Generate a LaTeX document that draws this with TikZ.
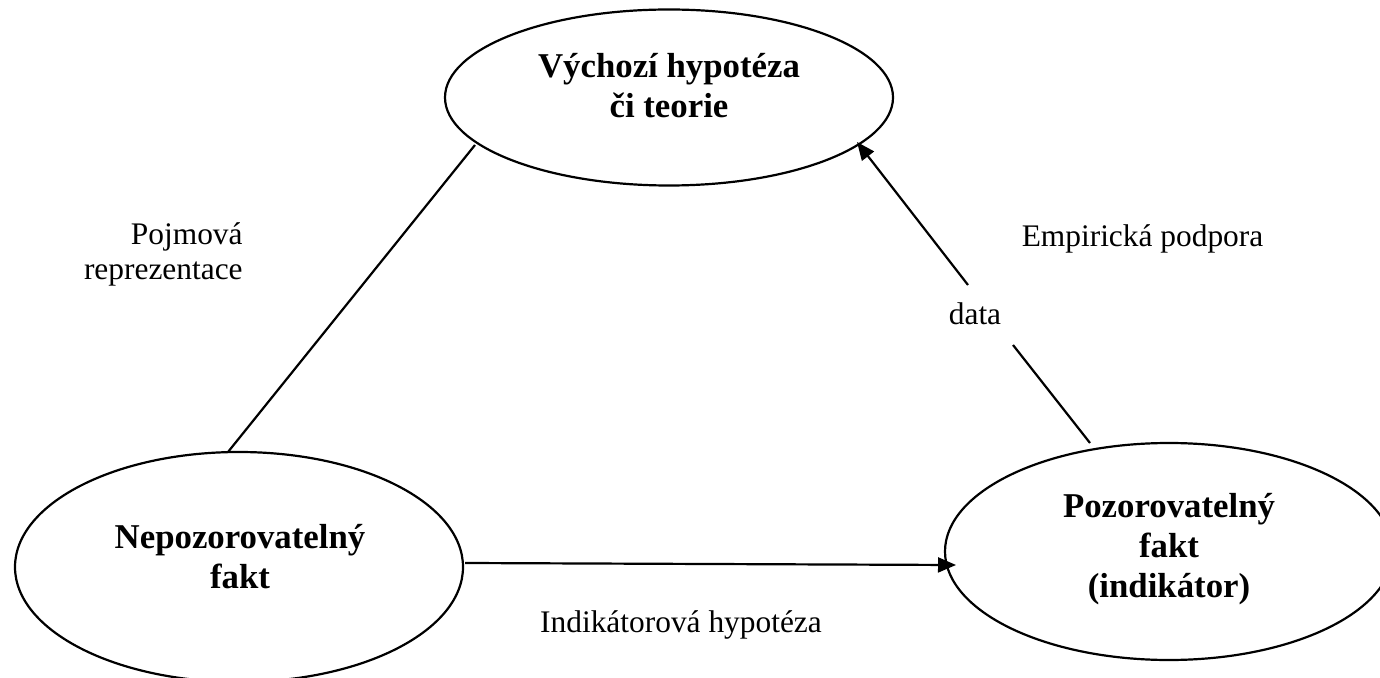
\documentclass[tikz,border=0pt]{standalone}
\usepackage{fontspec}
\setmainfont{Liberation Serif}
\usetikzlibrary{shapes.geometric,arrows.meta}

\tikzset{
  oval/.style={draw, line width=1.1pt, ellipse, inner sep=0pt},
  boldtext/.style={font=\fontsize{17.4}{20}\selectfont\bfseries, align=center, anchor=base, inner sep=0pt},
  plaintext/.style={font=\fontsize{15.7}{17.5}\selectfont, anchor=base, inner sep=0pt},
  link/.style={line width=1.1pt},
  arrowlink/.style={line width=1.1pt, -{Triangle[length=9pt,width=7.5pt]}}
}

\begin{document}
\begin{tikzpicture}[x=0.5pt, y=-0.5pt]
  \useasboundingbox (0,0) rectangle (1380,678);

  % the three concepts
  \node[oval, minimum width=224pt, minimum height=88pt] (theory) at (669,97.5) {};
  \node[oval, minimum width=224pt, minimum height=115pt] (hidden) at (239,567) {};
  \node[oval, minimum width=224pt, minimum height=108.5pt] (observed) at (1169,551.5) {};

  % multi-line texts are placed by the baseline of their last line
  \node[boldtext] (theorytext) at (669,118) {Výchozí hypotéza\\či teorie};
  \node[boldtext] (hiddentext) at (240,588) {Nepozorovatelný\\fakt};
  \node[boldtext] (observedtext) at (1169,597) {Pozorovatelný\\fakt\\(indikátor)};

  % relations
  \coordinate (tl) at (475,145);
  \coordinate (hl) at (228,452);
  \draw[link] (hl) -- (tl);

  \coordinate (hr) at (465,563);
  \coordinate (or) at (956,565);
  \draw[arrowlink] (hr) -- (or);

  \coordinate (ob) at (1090,443);
  \coordinate (gapa) at (1013,345);
  \coordinate (gapb) at (968,285);
  \coordinate (tr) at (857,142);
  \draw[link] (ob) -- (gapa);
  \draw[arrowlink] (gapb) -- (tr);

  % labels
  \node[plaintext] (data) at (975,325) {data};
  \node[plaintext, align=right, anchor=base east] (concept) at (243,280) {Pojmová\\reprezentace};
  \node[plaintext] (support) at (1142.5,247) {Empirická podpora};
  \node[plaintext] (indicator) at (681,632) {Indikátorová hypotéza};
\end{tikzpicture}
\end{document}
